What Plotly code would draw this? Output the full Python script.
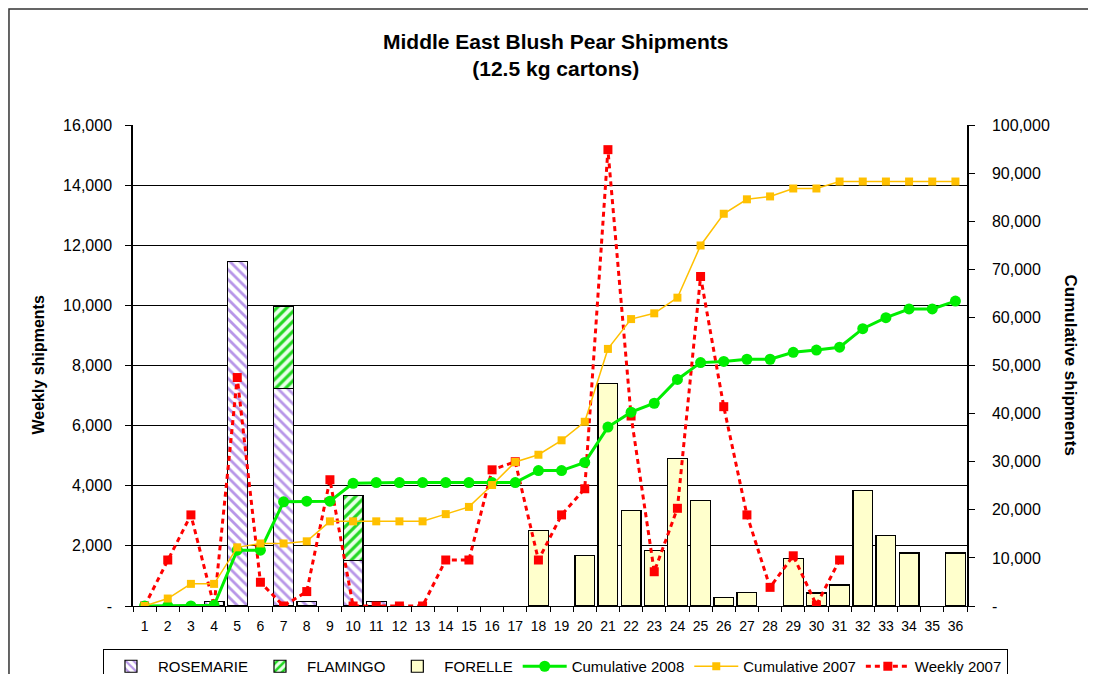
import plotly.graph_objects as go

weeks = [str(i) for i in range(1, 37)]

rosemarie = [None, None, None, 150, 11450, None, 7230, 150, None, 1510, 150] + [None] * 25
flamingo = [None] * 6 + [2740, None, None, 2160] + [None] * 26
forelle = ([None] * 17 + [2510, None, 1680, 7410, 3170, 1850, 4910, 3500, 280, 450, None,
                          1590, 430, 700, 3840, 2340, 1760, None, 1760])

cum_2008 = [0, 0, 0, 150, 11600, 11600, 21650, 21800, 21800, 25500, 25650, 25650, 25650,
            25650, 25650, 25650, 25650, 28150, 28150, 29850, 37200, 40300, 42150, 47100,
            50600, 50850, 51300, 51300, 52750, 53200, 53800, 57650, 59950, 61750, 61750, 63400]
cum_2007 = [0, 1550, 4600, 4600, 12200, 13000, 13000, 13450, 17600, 17600, 17600, 17600,
            17600, 19100, 20600, 25150, 29950, 31450, 34450, 38300, 53450, 59650, 60850,
            64100, 74950, 81550, 84550, 85150, 86800, 86800, 88250, 88250, 88250, 88250,
            88250, 88250]
weekly_2007 = [0, 1530, 3030, 0, 7600, 790, 0, 480, 4200, 0, 0, 0, 0, 1530, 1530, 4530,
               4800, 1530, 3030, 3900, 15180, 6320, 1140, 3250, 10960, 6630, 3030, 620,
               1670, 30, 1530] + [None] * 5

left_ticks = list(range(0, 16001, 2000))
left_text = ["-"] + [f"{v:,}" for v in left_ticks[1:]]
right_ticks = list(range(0, 100001, 10000))
right_text = ["-"] + [f"{v:,}" for v in right_ticks[1:]]

FONT = "Liberation Sans, Arial, sans-serif"

fig = go.Figure()
fig.add_trace(go.Bar(
    x=weeks, y=rosemarie, name="ROSEMARIE", legendrank=1,
    marker=dict(line=dict(color="black", width=1.2),
                pattern=dict(shape="\\", fgcolor="#B896E8", bgcolor="#FFFFFF",
                             fillmode="replace", size=7, solidity=0.4)),
))
fig.add_trace(go.Bar(
    x=weeks, y=flamingo, name="FLAMINGO", legendrank=2,
    marker=dict(line=dict(color="black", width=1.2),
                pattern=dict(shape="/", fgcolor="#22D822", bgcolor="#E8FFE8",
                             fillmode="replace", size=7, solidity=0.45)),
))
fig.add_trace(go.Bar(
    x=weeks, y=forelle, name="FORELLE", legendrank=3,
    marker=dict(color="#FFFFCC", line=dict(color="black", width=1.2)),
))
fig.add_trace(go.Scatter(
    x=weeks, y=weekly_2007, name="Weekly 2007", legendrank=6, mode="lines+markers",
    line=dict(color="#FF0000", width=3, dash="5px,4px"),
    marker=dict(symbol="square", size=9, color="#FF0000"),
))
fig.add_trace(go.Scatter(
    x=weeks, y=cum_2008, name="Cumulative 2008", legendrank=4, mode="lines+markers",
    yaxis="y2", line=dict(color="#00EE00", width=3),
    marker=dict(symbol="circle", size=11, color="#00EE00"),
))
fig.add_trace(go.Scatter(
    x=weeks, y=cum_2007, name="Cumulative 2007", legendrank=5, mode="lines+markers",
    yaxis="y2", line=dict(color="#FFC000", width=1.5),
    marker=dict(symbol="square", size=8, color="#FFC000"),
))

fig.update_layout(
    width=1088, height=666,
    margin=dict(l=125, r=129, t=117, b=68, autoexpand=False),
    paper_bgcolor="white", plot_bgcolor="white",
    font=dict(family=FONT, color="black"),
    barmode="stack", bargap=0.15,
    showlegend=True,
    legend=dict(orientation="h", x=-0.036, xanchor="left", y=-0.0894, yanchor="top",
                traceorder="normal",
                bordercolor="black", borderwidth=1, bgcolor="white",
                font=dict(size=15, family=FONT), itemwidth=44, tracegroupgap=0),
    xaxis=dict(type="category", categoryorder="array", categoryarray=weeks,
               tickson="boundaries", ticks="outside", ticklen=5, tickcolor="black",
               showline=True, linecolor="black", linewidth=1, showgrid=False,
               tickfont=dict(size=14), tickangle=0, ticklabelstandoff=7,
               range=[-0.5, 35.5]),
    yaxis=dict(range=[0, 16000], tickvals=left_ticks, ticktext=left_text,
               showgrid=True, gridcolor="black", gridwidth=1, zeroline=False,
               showline=True, linecolor="black", linewidth=1.5,
               ticks="outside", ticklen=6, tickcolor="black",
               tickfont=dict(size=16), ticklabelstandoff=10),
    yaxis2=dict(range=[0, 100000], tickvals=right_ticks, ticktext=right_text,
                overlaying="y", side="right", showgrid=False, zeroline=False,
                showline=True, linecolor="black", linewidth=1.5,
                ticks="outside", ticklen=6, tickcolor="black",
                tickfont=dict(size=16), ticklabelstandoff=14),
    annotations=[
        dict(text="<b>Middle East Blush Pear Shipments</b><br><b>(12.5 kg cartons)</b>",
             xref="paper", yref="paper", x=0.507, y=1.1455, xanchor="center",
             yanchor="middle", showarrow=False, font=dict(size=21, family=FONT)),
        dict(text="<b>Weekly shipments</b>", xref="paper", yref="paper",
             x=-0.1139, y=0.5, xanchor="center", yanchor="middle", textangle=-90,
             showarrow=False, font=dict(size=16, family=FONT)),
        dict(text="<b>Cumulative shipments</b>", xref="paper", yref="paper",
             x=1.1247, y=0.5, xanchor="center", yanchor="middle", textangle=90,
             showarrow=False, font=dict(size=17, family=FONT)),
    ],
    shapes=[
        dict(type="rect", xref="paper", yref="paper", x0=-0.1487, x1=1.2, y0=-0.2,
             y1=1.2412, line=dict(color="#333333", width=1.5), fillcolor="rgba(0,0,0,0)",
             layer="below"),
    ],
)

fig.write_html("out.html")
